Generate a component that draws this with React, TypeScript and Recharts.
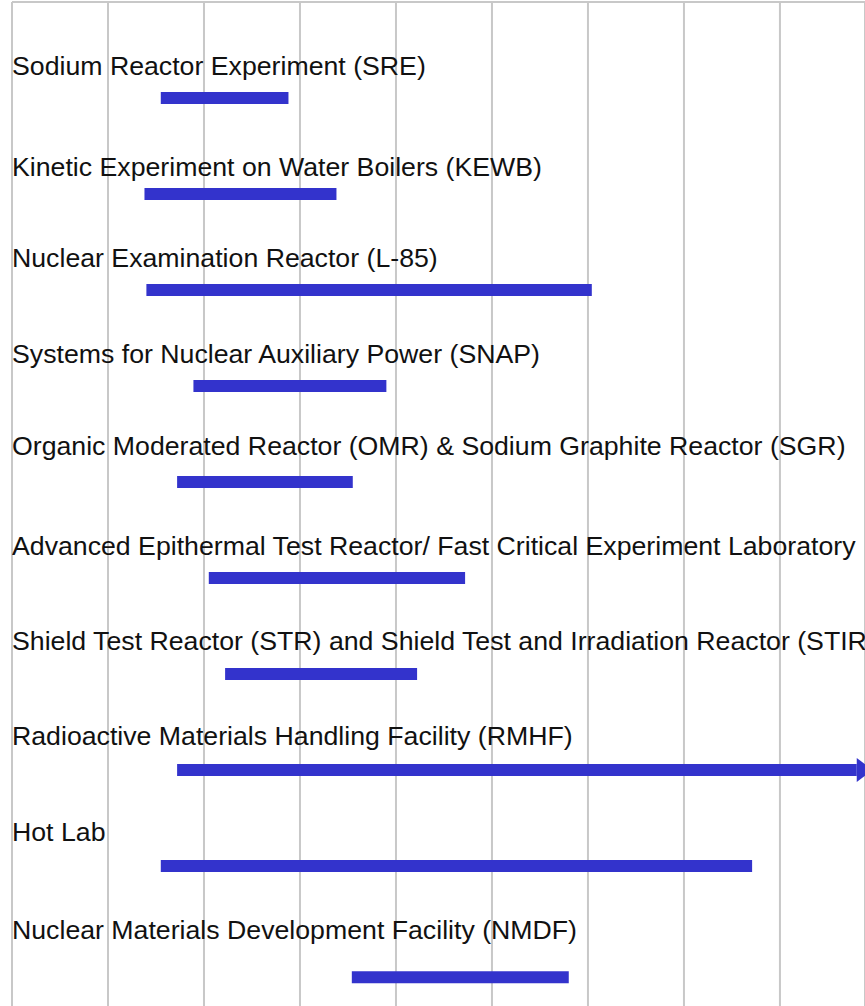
import React from 'react';
import { ComposedChart, Line, Scatter, XAxis, YAxis, CartesianGrid, ReferenceLine } from 'recharts';

// timeline of facilities, years
const gridYears = [1950, 1955, 1960, 1965, 1970, 1975, 1980, 1985, 1990];
const facilities = [
  'Sodium Reactor Experiment (SRE)',
  'Kinetic Experiment on Water Boilers (KEWB)',
  'Nuclear Examination Reactor (L-85)',
  'Systems for Nuclear Auxiliary Power (SNAP)',
  'Organic Moderated Reactor (OMR) & Sodium Graphite Reactor (SGR)',
  'Advanced Epithermal Test Reactor/ Fast Critical Experiment Laboratory',
  'Shield Test Reactor (STR) and Shield Test and Irradiation Reactor (STIR)',
  'Radioactive Materials Handling Facility (RMHF)',
  'Hot Lab',
  'Nuclear Materials Development Facility (NMDF)',
];
const startYears = [1957.75, 1956.9, 1957.0, 1959.45, 1958.6, 1960.25, 1961.1, 1958.6, 1957.75, 1967.7];
const endYears = [1964.4, 1966.9, 1980.2, 1969.5, 1967.75, 1973.6, 1971.1, 1994.0, 1988.55, 1979.0];
const ongoing = [false, false, false, false, false, false, false, true, false, false];
const barRows = [1, 2, 3, 4, 5, 6, 7, 8, 9, 10.16];
const labelRows = [0.76, 1.81, 2.76, 3.76, 4.72, 5.76, 6.75, 7.74, 8.74, 9.76];

const BAR_COLOR = '#3333cc';
const GRID_COLOR = '#c8c8c8';

const labelData = facilities.map((name, i) => ({ x: gridYears[0], y: labelRows[i], name }));

const LabelText = (props: any) => {
  const { cx, cy, payload } = props;
  return (
    <text x={cx} y={cy} fill="#111" fontSize={26.7} fontFamily="'Liberation Sans', Arial, sans-serif">
      {payload.name}
    </text>
  );
};

const ArrowHead = (props: any) => {
  const { cx, cy, index } = props;
  if (index !== 1) return <g key={`d${index}`} />;
  return (
    <polygon
      key={`d${index}`}
      points={`${cx},${cy - 12} ${cx + 16},${cy} ${cx},${cy + 12}`}
      fill={BAR_COLOR}
    />
  );
};

export default function App() {
  return (
    <div style={{ position: 'absolute', left: 0, top: 0, background: '#fff' }}>
      <ComposedChart width={865} height={1010} margin={{ top: 2, right: 0, left: 12, bottom: 0 }}>
        <CartesianGrid horizontal={false} stroke={GRID_COLOR} strokeWidth={2} />
        <XAxis type="number" dataKey="x" domain={[1950, 1994.43]} ticks={gridYears} hide allowDataOverflow />
        <YAxis type="number" dataKey="y" domain={[0, 10.5]} reversed hide allowDataOverflow />
        <ReferenceLine y={0} stroke={GRID_COLOR} strokeWidth={2} />
        {facilities.map((name, i) => (
          <Line
            key={name}
            data={[
              { x: startYears[i], y: barRows[i] },
              { x: endYears[i], y: barRows[i] },
            ]}
            dataKey="y"
            stroke={BAR_COLOR}
            strokeWidth={12}
            strokeLinecap="butt"
            dot={ongoing[i] ? ArrowHead : false}
            activeDot={false}
            isAnimationActive={false}
          />
        ))}
        <Scatter data={labelData} dataKey="y" shape={LabelText} isAnimationActive={false} />
      </ComposedChart>
    </div>
  );
}
